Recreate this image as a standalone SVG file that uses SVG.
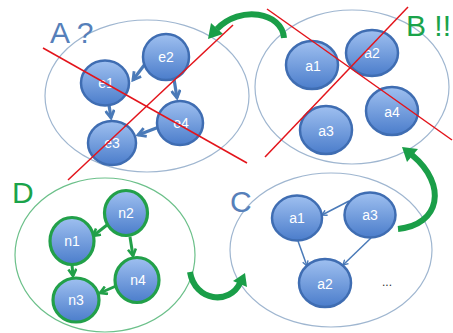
<svg xmlns="http://www.w3.org/2000/svg" width="453" height="333" viewBox="0 0 453 333">
<defs>
<linearGradient id="g" x1="0" y1="0" x2="0" y2="1">
<stop offset="0" stop-color="#9fc0f0"/>
<stop offset="1" stop-color="#4b7dcb"/>
</linearGradient>
<marker id="va" viewBox="0 0 10 10" refX="8" refY="5" markerWidth="11" markerHeight="11" markerUnits="userSpaceOnUse" orient="auto"><path d="M1,1 L8,5 L1,9" fill="none" stroke="#4a7ab8" stroke-width="2.6"/></marker>
<marker id="vc" viewBox="0 0 10 10" refX="8" refY="5" markerWidth="7" markerHeight="7" markerUnits="userSpaceOnUse" orient="auto"><path d="M1,1 L8,5 L1,9" fill="none" stroke="#4a7ab8" stroke-width="2"/></marker>
<marker id="vd" viewBox="0 0 10 10" refX="8" refY="5" markerWidth="10" markerHeight="10" markerUnits="userSpaceOnUse" orient="auto"><path d="M1,1 L8,5 L1,9" fill="none" stroke="#22a049" stroke-width="2.6"/></marker>
</defs>
<style>
.grp{fill:none;stroke:#9fb6d0;stroke-width:1.2}
.grpd{fill:none;stroke:#6cc08a;stroke-width:1.2}
.n{fill:url(#g);stroke:#3f6db2;stroke-width:2.5}
.nd{fill:url(#g);stroke:#22a049;stroke-width:3.2}
.t{font-family:"Liberation Sans",Arial,sans-serif;font-size:14px;fill:#ffffff;text-anchor:middle}
.big{font-family:"Liberation Sans",Arial,sans-serif;font-size:30px}
.blue{fill:#5680ba}
.green{fill:#1aa34a}
.ea{fill:none;stroke:#4a7ab8;stroke-width:3.2}
.ec{fill:none;stroke:#4a7ab8;stroke-width:1.5}
.ed{fill:none;stroke:#22a049;stroke-width:3}
.ga{fill:none;stroke:#1a9e48;stroke-width:6}
.gh{fill:#1a9e48}
.red{stroke:#e3141b;stroke-width:1.5}
</style>
<g id="groupA"><ellipse class="grp" cx="147" cy="96" rx="102" ry="76"/><text class="big blue" x="50" y="43">A ?</text></g>
<g id="groupB"><ellipse class="grp" cx="352" cy="87" rx="97" ry="77"/><text class="big green" x="406" y="36">B !!</text></g>
<g id="groupD"><ellipse class="grpd" cx="105" cy="255" rx="90" ry="77"/><text class="big green" x="12" y="203">D</text></g>
<g id="groupC"><ellipse class="grp" cx="331" cy="250" rx="101" ry="77"/><text class="big blue" x="230" y="212">C</text><text x="387" y="286" font-family="Liberation Sans,Arial,sans-serif" font-size="12" fill="#333" text-anchor="middle">...</text></g>
<g id="connectors">
<line class="ea" x1="145" y1="64" x2="133" y2="80" marker-end="url(#va)"/>
<line class="ea" x1="174" y1="79" x2="177" y2="98" marker-end="url(#va)"/>
<line class="ea" x1="109" y1="105" x2="111" y2="118" marker-end="url(#va)"/>
<line class="ea" x1="159" y1="127" x2="138" y2="135" marker-end="url(#va)"/>
<line class="ec" x1="349" y1="201" x2="322" y2="215" marker-end="url(#vc)"/>
<line class="ec" x1="298" y1="241" x2="307" y2="266" marker-end="url(#vc)"/>
<line class="ec" x1="371" y1="238" x2="343" y2="265" marker-end="url(#vc)"/>
<line class="ed" x1="107" y1="225" x2="93" y2="236" marker-end="url(#vd)"/>
<line class="ed" x1="130" y1="237" x2="133" y2="256" marker-end="url(#vd)"/>
<line class="ed" x1="72" y1="265" x2="73" y2="276" marker-end="url(#vd)"/>
<line class="ed" x1="116" y1="286" x2="100" y2="293" marker-end="url(#vd)"/>
<path class="ga" d="M284 38 C282 12 240 5 217 29"/>
<polygon class="gh" points="208,39 223,34 211,23"/>
<path class="ga" d="M398 229 C440 225 448 185 412 155" stroke-width="7"/>
<polygon class="gh" points="402,147 418,149 407,162"/>
<path class="ga" d="M190 272 C195 302 230 305 240 283" stroke-width="5.5"/>
<polygon class="gh" points="245,273 247,287 233,281"/>
</g>
<g id="e2"><ellipse class="n" cx="166" cy="57" rx="23" ry="23"/><text class="t" x="166" y="62">e2</text></g>
<g id="e1"><ellipse class="n" cx="105" cy="83" rx="24" ry="22.5"/><text class="t" x="106" y="88">e1</text></g>
<g id="e4"><ellipse class="n" cx="180" cy="123" rx="23" ry="22"/><text class="t" x="181" y="128">e4</text></g>
<g id="e3"><ellipse class="n" cx="112" cy="143" rx="24" ry="22"/><text class="t" x="112" y="148">e3</text></g>
<g id="b_a1"><ellipse class="n" cx="312" cy="65" rx="26" ry="24"/><text class="t" x="313" y="71">a1</text></g>
<g id="b_a2"><ellipse class="n" cx="372" cy="53" rx="26" ry="23"/><text class="t" x="372" y="58">a2</text></g>
<g id="b_a4"><ellipse class="n" cx="392" cy="111" rx="26" ry="24"/><text class="t" x="392" y="117">a4</text></g>
<g id="b_a3"><ellipse class="n" cx="326" cy="130" rx="26" ry="24"/><text class="t" x="326" y="136">a3</text></g>
<g id="c_a1"><ellipse class="n" cx="297" cy="218" rx="25" ry="22.5"/><text class="t" x="297" y="223">a1</text></g>
<g id="c_a3"><ellipse class="n" cx="370" cy="215" rx="25.5" ry="22.5"/><text class="t" x="370" y="220">a3</text></g>
<g id="c_a2"><ellipse class="n" cx="325" cy="283" rx="26" ry="24"/><text class="t" x="325" y="289">a2</text></g>
<g id="n2"><ellipse class="nd" cx="126" cy="213" rx="21.5" ry="22.5"/><text class="t" x="126" y="218">n2</text></g>
<g id="n1"><ellipse class="nd" cx="72" cy="241" rx="22" ry="23.5"/><text class="t" x="72" y="246">n1</text></g>
<g id="n4"><ellipse class="nd" cx="137" cy="280" rx="22" ry="22.5"/><text class="t" x="138" y="285">n4</text></g>
<g id="n3"><ellipse class="nd" cx="76" cy="300" rx="23" ry="22"/><text class="t" x="76" y="305">n3</text></g>
<g id="crosses">
<line class="red" x1="43" y1="48" x2="247" y2="163"/>
<line class="red" x1="233" y1="25" x2="68" y2="180"/>
<line class="red" x1="267" y1="9" x2="452" y2="140"/>
<line class="red" x1="408" y1="7" x2="265" y2="157"/>
</g>
</svg>
